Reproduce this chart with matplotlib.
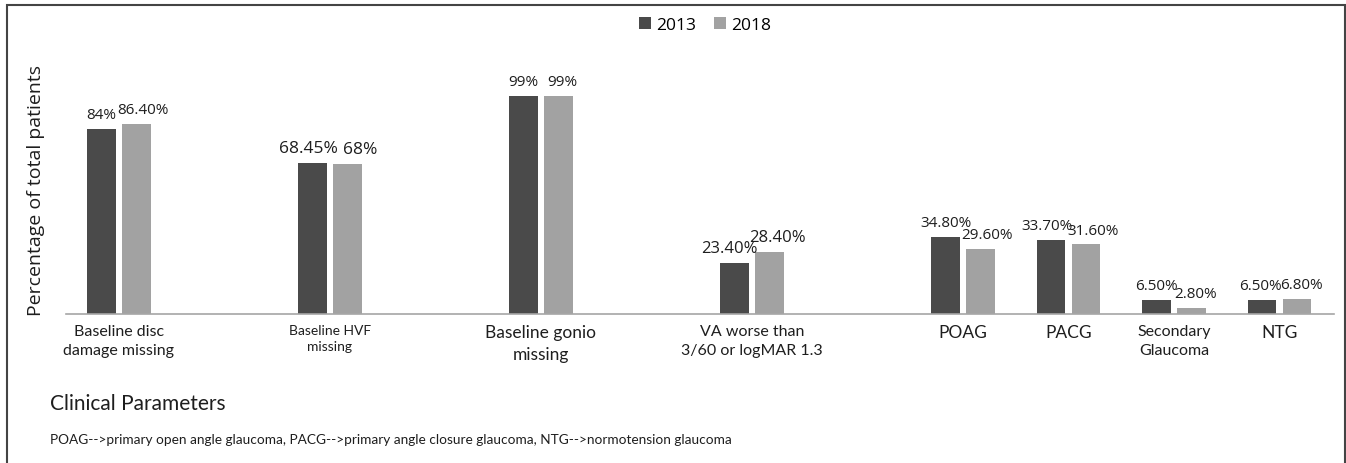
import matplotlib.pyplot as plt
import matplotlib.patches as mpatches
import numpy as np

# data
categories = ["Baseline disc\ndamage missing", "Baseline HVF\nmissing", "Baseline gonio\nmissing",
              "VA worse than\n3/60 or logMAR 1.3", "POAG", "PACG", "Secondary\nGlaucoma", "NTG"]
values_2013 = [84, 68.45, 99, 23.4, 34.8, 33.7, 6.5, 6.5]
values_2018 = [86.4, 68, 99, 28.4, 29.6, 31.6, 2.8, 6.8]
labels_2013 = ["84%", "68.45%", "99%", "23.40%", "34.80%", "33.70%", "6.50%", "6.50%"]
labels_2018 = ["86.40%", "68%", "99%", "28.40%", "29.60%", "31.60%", "2.80%", "6.80%"]

# layout: the four diagnosis groups sit at half spacing in the original
positions = np.array([0, 1, 2, 3, 4, 4.5, 5, 5.5])
label_sizes = [11, 12.5, 11, 12, 11, 11, 11, 11]
tick_sizes = [11.5, 10, 12.5, 11.5, 12.5, 12.5, 11.5, 12.5]
# horizontal nudges of the value labels (points)
dx_2013 = [0, -3, 0, -4, 0, -3, 0, -1]
dx_2018 = [5, 9, 3, 6, 5, 5, 3, 3]

dark = "#4a4a4a"
light = "#a2a2a2"
width = 0.135
off = 0.083
txt = "#1e1e1e"

fig = plt.figure(figsize=(13.46, 4.64), dpi=100)
ax = fig.add_axes([66 / 1346, 1 - 315 / 464, 1268 / 1346, 275 / 464])

ax.bar(positions - off, values_2013, width, color=dark, label="2013")
ax.bar(positions + off, values_2018, width, color=light, label="2018")

for i in range(len(positions)):
    ax.annotate(labels_2013[i], (positions[i] - off, values_2013[i]), xytext=(dx_2013[i], 5),
                textcoords="offset points", ha="center", va="bottom",
                fontsize=label_sizes[i], family="Open Sans", color=txt)
    ax.annotate(labels_2018[i], (positions[i] + off, values_2018[i]), xytext=(dx_2018[i], 5),
                textcoords="offset points", ha="center", va="bottom",
                fontsize=label_sizes[i], family="Open Sans", color=txt)

ax.set_xlim(-0.251, 5.758)
ax.set_ylim(0, 125)
ax.set_yticks([])
ax.set_xticks(positions)
ax.set_xticklabels(categories, family="Lato", color=txt, linespacing=1.45)
for t, s in zip(ax.get_xticklabels(), tick_sizes):
    t.set_fontsize(s)
ax.tick_params(axis="x", length=0, pad=7)
for s in ["top", "right", "left"]:
    ax.spines[s].set_visible(False)
ax.spines["bottom"].set_color("#a6a6a6")
ax.spines["bottom"].set_linewidth(1.2)

ax.legend(loc="upper center", bbox_to_anchor=(705 / 1346, 1 - 2 / 464), bbox_transform=fig.transFigure,
          ncol=2, frameon=False, prop={"family": "Open Sans", "size": 12.5},
          handlelength=0.7, handleheight=0.7, handletextpad=0.3, columnspacing=1.0)

fig.text(36 / 1346, 1 - 190 / 464, "Percentage of total patients", rotation=90, ha="center", va="center",
         fontsize=14, family="Open Sans", color=txt)
fig.text(50 / 1346, 1 - 404 / 464, "Clinical Parameters", ha="left", va="center",
         fontsize=15, family="Lato", color=txt)
fig.text(50 / 1346, 1 - 440 / 464,
         "POAG-->primary open angle glaucoma, PACG-->primary angle closure glaucoma, NTG-->normotension glaucoma",
         ha="left", va="center", fontsize=9.8, family="Lato", color=txt)

# outer frame (bottom edge falls outside the image)
fig.patches.append(mpatches.Rectangle((7 / 1346, -0.02), 1338 / 1346, 1 - 6 / 464 + 0.02,
                                      transform=fig.transFigure, fill=False,
                                      edgecolor="#444444", linewidth=1.5))

fig.savefig("out.png", dpi=100)
